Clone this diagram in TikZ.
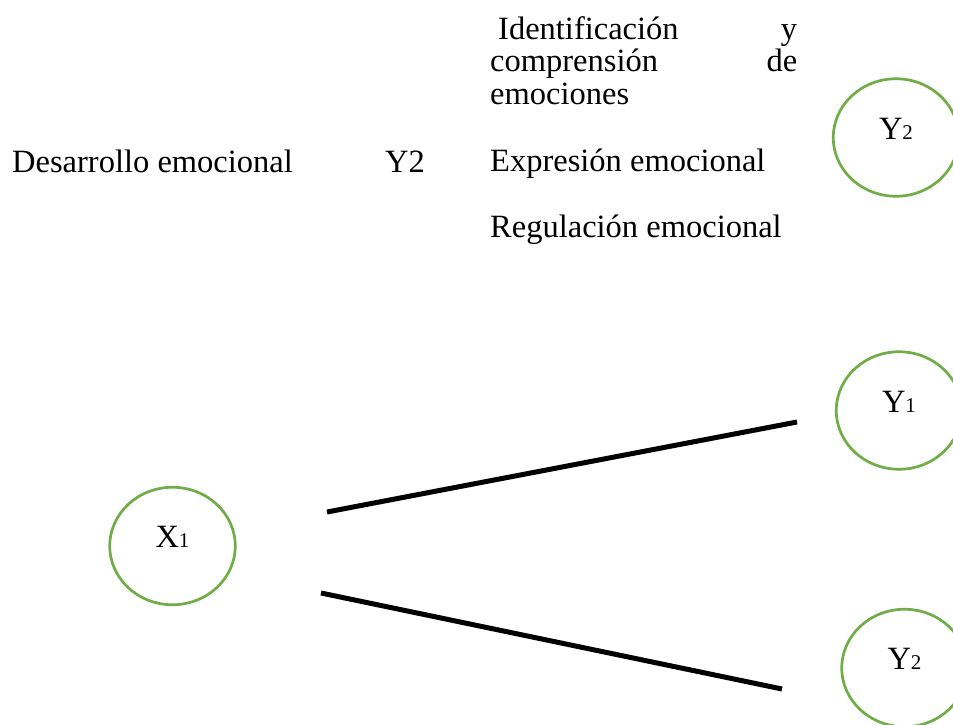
\documentclass[tikz,border=0pt]{standalone}
\usepackage{fontspec}
\setmainfont{Liberation Serif}
\usetikzlibrary{shapes.geometric}
\definecolor{officegreen}{HTML}{70AD47}
\tikzset{
  txt/.style={inner sep=0pt, anchor=base west, font=\fontsize{32.5}{32.5}\selectfont},
  varcircle/.style={ellipse, draw=officegreen, line width=2.7pt, minimum width=125.5pt, minimum height=117.5pt, inner sep=0pt, text height=21.5pt, text depth=18pt, font=\fontsize{32.5}{32.5}\selectfont},
  link/.style={line width=5pt, black}
}
\newcommand{\smalldig}[1]{{\fontsize{21}{21}\selectfont #1}}
\begin{document}
\begin{tikzpicture}[x=1pt,y=-1pt]
\useasboundingbox (0,0) rectangle (953,724);
\clip (0,0) rectangle (953,724);
% texts
\node[txt] (des) at (12,172) {Desarrollo emocional};
\node[txt] (y2t) at (385,172) {Y2};
\node[txt, text width=307pt, align=justify] (idc) at (490,39) {\hspace*{8pt}Identificación\hfill y\\comprensión\hfill de\\emociones};
\node[txt] (exp) at (490,171) {Expresión emocional};
\node[txt] (reg) at (490,237) {Regulación emocional};
% circles
\node[varcircle] (x1) at (172.5,546) {X\smalldig{1}};
\node[varcircle] (y1) at (899,410.5) {Y\smalldig{1}};
\node[varcircle] (y2top) at (896,137.5) {Y\smalldig{2}};
\node[varcircle] (y2bot) at (904.5,668) {Y\smalldig{2}};
% lines
\coordinate (l1a) at (327,512);
\coordinate (l1b) at (797,422);
\coordinate (l2a) at (321,593);
\coordinate (l2b) at (782,689);
\draw[link] (l1a) -- (l1b);
\draw[link] (l2a) -- (l2b);
\end{tikzpicture}
\end{document}
